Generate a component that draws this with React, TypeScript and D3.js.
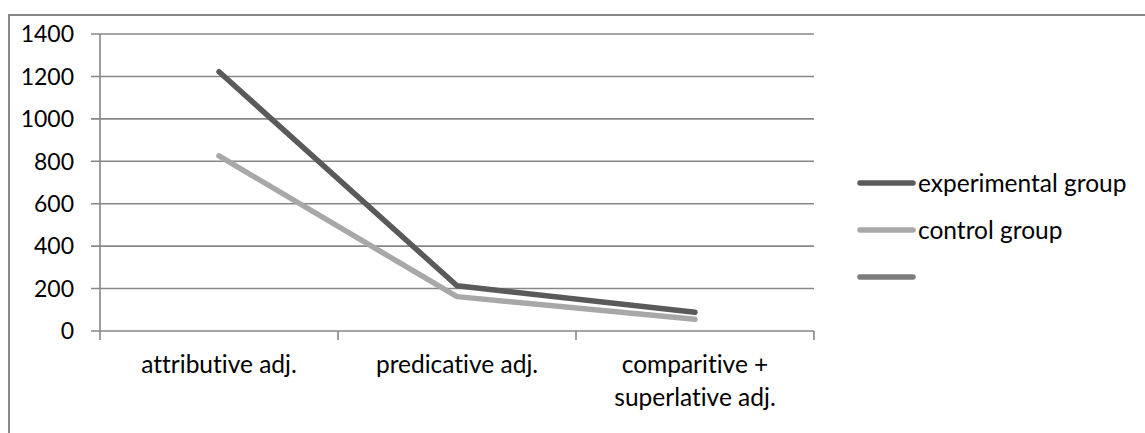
import React from "react";
import * as d3 from "d3";

const categories = ["attributive adj.", "predicative adj.", "comparitive + superlative adj."];
const categoryLines = [["attributive adj."], ["predicative adj."], ["comparitive +", "superlative adj."]];
const experimental = [1222, 213, 88];
const control = [825, 162, 55];
const yTicks = [0, 200, 400, 600, 800, 1000, 1200, 1400];
const seriesNames = ["experimental group", "control group", ""];
const seriesColors = ["#5a5a5a", "#a8a8a8", "#7c7c7c"];

const W = 1145;
const H = 433;
const FONT = "Lato, 'Open Sans', sans-serif";

export default function App() {
  const x = d3.scaleBand().domain(categories).range([100, 814]).padding(0);
  const y = d3.scaleLinear().domain([0, 1400]).range([331, 34]);
  const line = d3
    .line<number>()
    .x((_, i) => (x(categories[i]) as number) + x.bandwidth() / 2)
    .y((d) => y(d));
  const series = [experimental, control];
  const grid = "#878787";
  return (
    <svg
      width={W}
      height={H}
      style={{ position: "absolute", left: 0, top: 0, fontVariantLigatures: "none", fontFeatureSettings: "'liga' 0" }}
      fontFamily={FONT}
    >
      <rect x={0} y={0} width={W} height={H} fill="#fff" />
      <rect x={9} y={15} width={W + 20} height={H + 20} fill="none" stroke={grid} strokeWidth={2} />
      {yTicks.map((t) => (
        <g key={t}>
          <line x1={91} x2={814} y1={y(t)} y2={y(t)} stroke={grid} strokeWidth={1.6} />
          <text x={74} y={y(t)} dy="0.36em" textAnchor="end" fontSize={23} fill="#000">
            {t}
          </text>
        </g>
      ))}
      <line x1={100} x2={100} y1={y(1400)} y2={y(0) + 9} stroke={grid} strokeWidth={1.6} />
      {categories.map((c) => (
        <line
          key={c}
          x1={(x(c) as number) + x.bandwidth()}
          x2={(x(c) as number) + x.bandwidth()}
          y1={y(0)}
          y2={y(0) + 9}
          stroke={grid}
          strokeWidth={1.6}
        />
      ))}
      {categoryLines.map((lines, i) => (
        <text
          key={i}
          x={(x(categories[i]) as number) + x.bandwidth() / 2}
          y={373}
          textAnchor="middle"
          fontSize={24.5}
          fill="#000"
        >
          {lines.map((l, j) => (
            <tspan key={j} x={(x(categories[i]) as number) + x.bandwidth() / 2} dy={j === 0 ? 0 : 33}>
              {l}
            </tspan>
          ))}
        </text>
      ))}
      {series.map((s, i) => (
        <path
          key={i}
          d={line(s) as string}
          fill="none"
          stroke={seriesColors[i]}
          strokeWidth={5.5}
          strokeLinecap="round"
          strokeLinejoin="round"
        />
      ))}
      {seriesNames.map((n, i) => {
        const ly = 183 + i * 47;
        return (
          <g key={i}>
            <line x1={860} x2={913} y1={ly} y2={ly} stroke={seriesColors[i]} strokeWidth={5.5} strokeLinecap="round" />
            <text x={918} y={ly} dy="0.36em" fontSize={24.5} fill="#000">
              {n}
            </text>
          </g>
        );
      })}
    </svg>
  );
}
